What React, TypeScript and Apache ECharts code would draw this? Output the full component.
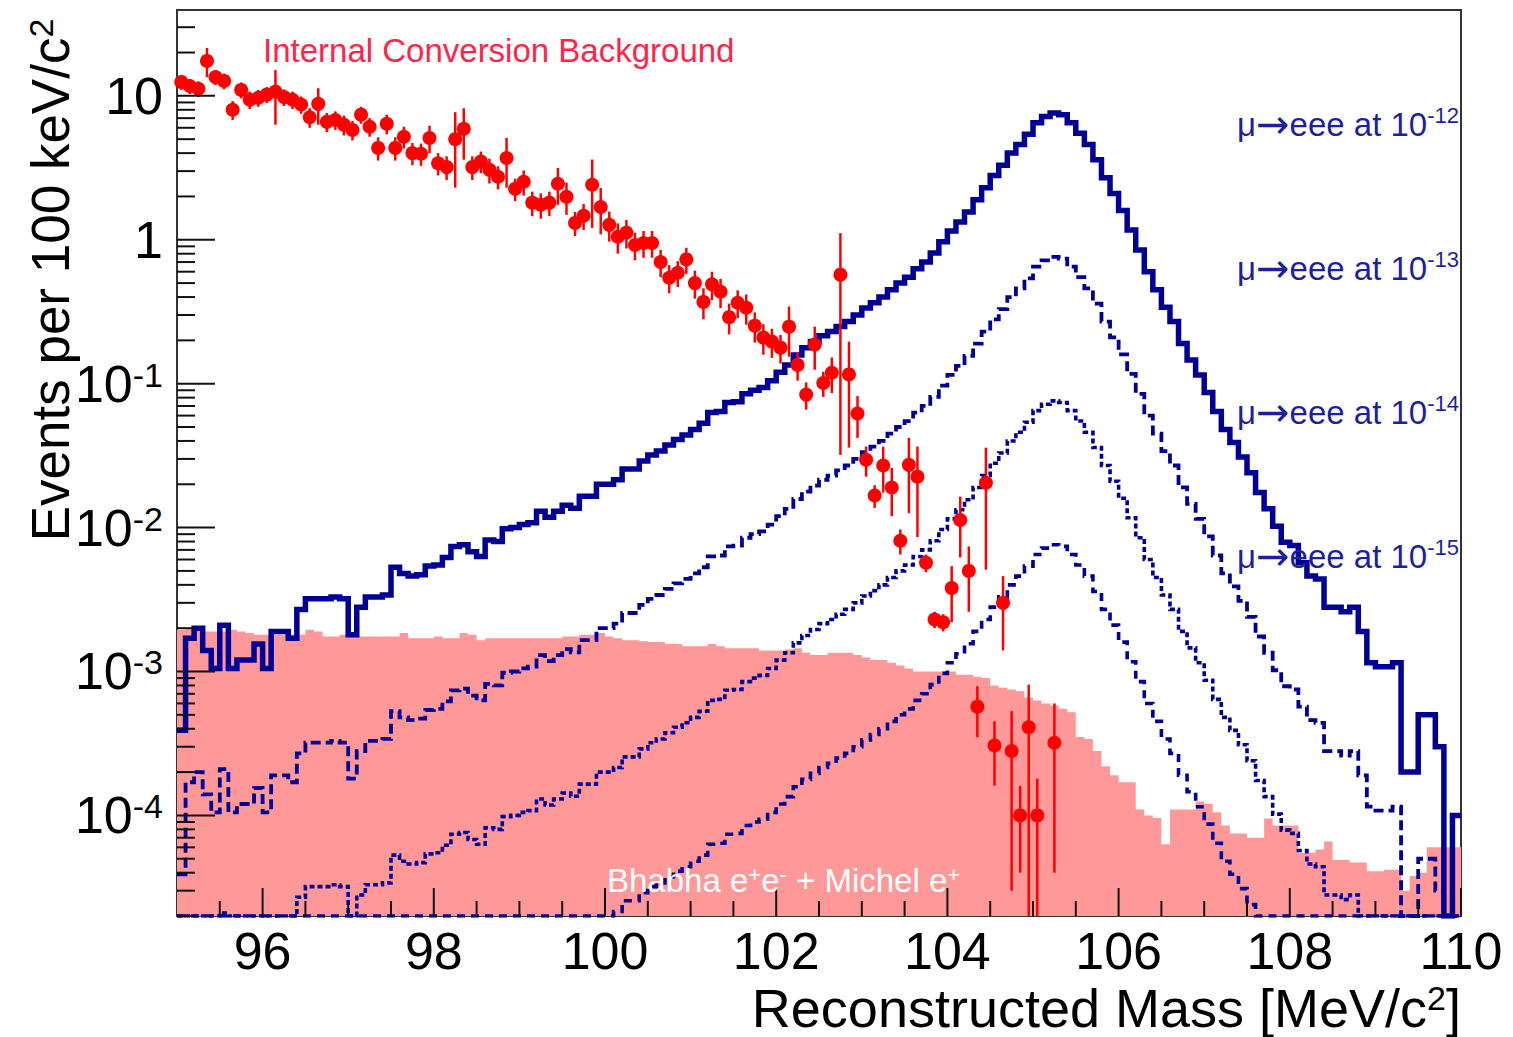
import React, { useEffect, useRef } from 'react';
import * as echarts from 'echarts';

// ---------- axis ranges ----------
const X_MIN = 95;
const X_MAX = 110;
const BIN_WIDTH = 0.1;
const Y_MIN = 2e-5;
const Y_MAX = 39.5;

// ---------- tick marks ----------
const X_MAJOR_TICKS = [96, 98, 100, 102, 104, 106, 108, 110];
const X_MINOR_TICKS = [95.5, 96.5, 97, 97.5, 98.5, 99, 99.5, 100.5, 101, 101.5, 102.5, 103, 103.5, 104.5, 105, 105.5, 106.5, 107, 107.5, 108.5, 109, 109.5];
const Y_DECADES = [1e-5, 1e-4, 1e-3, 1e-2, 1e-1, 1, 10];
const Y_MINOR_MULTIPLIERS = [2, 3, 4, 5, 6, 7, 8, 9];

// ---------- mu -> eee signal shape (10^-12 branching ratio), 150 bins of 100 keV from 95 MeV ----------
const SIGNAL_1E12 = [
  3.9e-4, 1.7e-3, 2.0e-3, 1.4e-3, 1.05e-3, 2.1e-3, 1.05e-3, 1.2e-3, 1.2e-3, 1.55e-3,
  1.05e-3, 1.9e-3, 1.9e-3, 1.7e-3, 2.7e-3, 3.2e-3, 3.2e-3, 3.2e-3, 3.3e-3, 3.2e-3,
  1.8e-3, 2.8e-3, 3.3e-3, 3.3e-3, 3.4e-3, 5.3e-3, 4.8e-3, 4.6e-3, 4.7e-3, 5.4e-3,
  5.5e-3, 6.2e-3, 7.4e-3, 7.6e-3, 6.8e-3, 6.3e-3, 8.2e-3, 8.0e-3, 9.8e-3, 1.0e-2,
  1.05e-2, 1.08e-2, 1.3e-2, 1.18e-2, 1.3e-2, 1.43e-2, 1.36e-2, 1.65e-2, 1.65e-2, 2.0e-2,
  2.0e-2, 2.15e-2, 2.55e-2, 2.55e-2, 2.9e-2, 3.2e-2, 3.4e-2, 3.75e-2, 4.1e-2, 4.4e-2,
  4.8e-2, 5.3e-2, 6.3e-2, 6.4e-2, 7.4e-2, 7.5e-2, 8.5e-2, 9.0e-2, 9.4e-2, 0.105,
  0.12, 0.135, 0.158, 0.178, 0.196, 0.215, 0.23, 0.25, 0.27, 0.30,
  0.335, 0.365, 0.40, 0.45, 0.50, 0.55, 0.63, 0.70, 0.81, 0.97,
  1.15, 1.33, 1.56, 1.9, 2.3, 2.8, 3.3, 4.0, 4.6, 5.4,
  6.5, 7.2, 7.6, 7.4, 6.5, 5.5, 4.6, 3.6, 2.7, 2.1,
  1.6, 1.17, 0.85, 0.6, 0.45, 0.34, 0.27, 0.19, 0.146, 0.115,
  0.087, 0.064, 0.048, 0.039, 0.031, 0.024, 0.0175, 0.0135, 0.0102, 0.0079,
  0.0075, 0.0057, 0.0046, 0.0044, 0.0028, 0.0028, 0.0026, 0.0028, 0.0019, 0.00115,
  0.00108, 0.00108, 0.00115, 0.0002, 0.0002, 0.0005, 0.0005, 0.0003, 0, 0.0001,
];
const SIGNAL_EXPONENTS = [-12, -13, -14, -15];

// ---------- Bhabha e+e- + Michel e+ background ----------
const BHABHA_MICHEL = [
  1.95e-3, 2.0e-3, 2.0e-3, 1.9e-3, 1.9e-3, 1.9e-3, 1.95e-3, 1.9e-3, 1.85e-3, 1.8e-3,
  1.8e-3, 1.8e-3, 1.8e-3, 1.8e-3, 1.8e-3, 1.95e-3, 1.9e-3, 1.75e-3, 1.75e-3, 1.8e-3,
  1.75e-3, 1.75e-3, 1.75e-3, 1.75e-3, 1.75e-3, 1.75e-3, 1.85e-3, 1.7e-3, 1.7e-3, 1.7e-3,
  1.75e-3, 1.7e-3, 1.7e-3, 1.85e-3, 1.8e-3, 1.65e-3, 1.7e-3, 1.7e-3, 1.7e-3, 1.7e-3,
  1.7e-3, 1.7e-3, 1.7e-3, 1.7e-3, 1.7e-3, 1.75e-3, 1.75e-3, 1.8e-3, 1.8e-3, 1.85e-3,
  1.75e-3, 1.7e-3, 1.65e-3, 1.65e-3, 1.62e-3, 1.6e-3, 1.6e-3, 1.55e-3, 1.55e-3, 1.5e-3,
  1.5e-3, 1.5e-3, 1.55e-3, 1.5e-3, 1.45e-3, 1.45e-3, 1.45e-3, 1.45e-3, 1.4e-3, 1.4e-3,
  1.4e-3, 1.42e-3, 1.45e-3, 1.35e-3, 1.3e-3, 1.3e-3, 1.35e-3, 1.35e-3, 1.35e-3, 1.3e-3,
  1.25e-3, 1.2e-3, 1.2e-3, 1.15e-3, 1.1e-3, 1.05e-3, 1.0e-3, 1.0e-3, 1.0e-3, 1.0e-3,
  1.0e-3, 9.5e-4, 9.5e-4, 9.2e-4, 9.0e-4, 8.0e-4, 7.7e-4, 7.5e-4, 7.3e-4, 6.6e-4,
  6.3e-4, 6.0e-4, 5.8e-4, 5.5e-4, 5.2e-4, 3.5e-4, 3.4e-4, 2.8e-4, 2.2e-4, 1.9e-4,
  1.7e-4, 1.7e-4, 1.1e-4, 1.0e-4, 9.6e-5, 6.3e-5, 1.1e-4, 1.1e-4, 1.1e-4, 1.25e-4,
  1.2e-4, 1.05e-4, 8.5e-5, 7.5e-5, 7.5e-5, 7.0e-5, 7.0e-5, 9.5e-5, 8.5e-5, 8.5e-5,
  8.5e-5, 5.5e-5, 5.5e-5, 5.8e-5, 6.6e-5, 4.9e-5, 4.9e-5, 4.7e-5, 4.7e-5, 4.1e-5,
  4.1e-5, 4.2e-5, 4.2e-5, 3.0e-5, 3.8e-5, 4.0e-5, 6.0e-5, 6.0e-5, 6.0e-5, 6.0e-5,
];

// ---------- Internal conversion background (points with errors) ----------
const IC_MASS = [
  95.05, 95.15, 95.25, 95.35, 95.45, 95.55, 95.65, 95.75, 95.85, 95.95,
  96.05, 96.15, 96.25, 96.35, 96.45, 96.55, 96.65, 96.75, 96.85, 96.95,
  97.05, 97.15, 97.25, 97.35, 97.45, 97.55, 97.65, 97.75, 97.85, 97.95,
  98.05, 98.15, 98.25, 98.35, 98.45, 98.55, 98.65, 98.75, 98.85, 98.95,
  99.05, 99.15, 99.25, 99.35, 99.45, 99.55, 99.65, 99.75, 99.85, 99.95,
  100.05, 100.15, 100.25, 100.35, 100.45, 100.55, 100.65, 100.75, 100.85, 100.95,
  101.05, 101.15, 101.25, 101.35, 101.45, 101.55, 101.65, 101.75, 101.85, 101.95,
  102.05, 102.15, 102.25, 102.35, 102.45, 102.55, 102.65, 102.75, 102.85, 102.95,
  103.05, 103.15, 103.25, 103.35, 103.45, 103.55, 103.65, 103.75, 103.85, 103.95,
  104.05, 104.15, 104.25, 104.35, 104.45, 104.55, 104.65, 104.75, 104.85, 104.95,
  105.05, 105.25,
];
const IC_VALUE = [
  12.5, 11.7, 11.2, 17.5, 13.5, 12.7, 8.0, 11.0, 9.4, 9.7,
  10.2, 10.7, 9.8, 9.4, 8.7, 7.1, 8.8, 6.6, 6.8, 6.3,
  5.8, 7.4, 6.1, 4.35, 6.4, 4.35, 5.2, 4.0, 3.96, 5.1,
  3.4, 3.2, 5.0, 5.9, 3.2, 3.5, 3.06, 2.74, 3.7, 2.26,
  2.53, 1.81, 1.75, 1.81, 2.45, 1.99, 1.31, 1.47, 2.41, 1.69,
  1.27, 1.05, 1.12, 0.92, 0.95, 0.95, 0.70, 0.545, 0.59, 0.73,
  0.50, 0.37, 0.49, 0.435, 0.29, 0.365, 0.337, 0.253, 0.209, 0.196,
  0.178, 0.249, 0.135, 0.084, 0.187, 0.101, 0.119, 0.572, 0.116, 0.062,
  0.0296, 0.0167, 0.027, 0.019, 0.0081, 0.0273, 0.0226, 0.0057, 0.0023, 0.0022,
  0.0038, 0.0113, 0.005, 0.00057, 0.0205, 0.000306, 0.003, 0.00028, 0.0001, 0.00041,
  0.0001, 0.00032,
];
const IC_ERROR = [
  1.5, 1.4, 1.4, 4.0, 1.6, 1.6, 1.2, 1.4, 1.3, 1.3,
  1.3, 4.4, 1.3, 1.3, 1.2, 1.1, 2.5, 1.0, 1.0, 1.0,
  0.9, 1.0, 0.9, 0.8, 1.0, 0.8, 0.9, 0.7, 0.7, 1.1,
  0.6, 0.6, 2.7, 2.3, 0.6, 0.6, 0.6, 0.5, 1.4, 0.4,
  0.5, 0.35, 0.35, 0.35, 0.7, 0.5, 0.25, 0.3, 1.2, 0.6,
  0.3, 0.25, 0.25, 0.2, 0.2, 0.2, 0.15, 0.12, 0.12, 0.15,
  0.11, 0.09, 0.11, 0.1, 0.07, 0.08, 0.08, 0.06, 0.05, 0.045,
  0.04, 0.095, 0.03, 0.018, 0.062, 0.02, 0.033, 0.54, 0.08, 0.02,
  0.007, 0.003, 0.0095, 0.007, 0.0016, 0.0147, 0.014, 0.0008, 0.0003, 0.0003,
  0.0016, 0.0051, 0.0024, 0.00022, 0.0154, 0.000145, 0.0016, 0.00025, 0.00006, 0.0004,
  0.00008, 0.00028,
];

const FONT = '"Liberation Sans", Arial, Helvetica, sans-serif';
const ARROW_FONT = '"DejaVu Sans", "Liberation Sans", sans-serif';
const NAVY = '#000096';
const PINK = '#ff9999';
const RED = '#ff0000';
const LABEL_RED = '#ff2448';
const LABEL_BLUE = '#1f1f9e';

const SIGNAL_STYLES: any[] = [
  { width: 5.5, type: 'solid' },
  { width: 3.8, type: [10, 5] },
  { width: 3.6, type: [5, 3] },
  { width: 3.6, type: [8, 6] },
];

function histEdges(values: number[], scale: number) {
  const pts: number[][] = values.map((v, i) => [X_MIN + i * BIN_WIDTH, Math.max(v * scale, Y_MIN)]);
  pts.push([X_MAX, Math.max(values[values.length - 1] * scale, Y_MIN)]);
  return pts;
}

function buildOption() {
  const xTicks: number[][] = [
    ...X_MAJOR_TICKS.map((x) => [x, Y_MIN, 1]),
    ...X_MINOR_TICKS.map((x) => [x, Y_MIN, 0]),
  ];
  const yTicks: number[][] = [];
  Y_DECADES.forEach((d) => {
    if (d >= Y_MIN && d <= Y_MAX) yTicks.push([X_MIN, d, 1]);
    Y_MINOR_MULTIPLIERS.forEach((m) => {
      const v = d * m;
      if (v >= Y_MIN * 0.999 && v <= Y_MAX) yTicks.push([X_MIN, v, 0]);
    });
  });

  const signalSeries = SIGNAL_EXPONENTS.map((e, i) => ({
    type: 'line',
    name: 'signal' + e,
    step: 'end',
    symbol: 'none',
    clip: true,
    z: 3,
    data: histEdges(SIGNAL_1E12, Math.pow(10, e + 12)),
    lineStyle: { color: NAVY, width: SIGNAL_STYLES[i].width, type: SIGNAL_STYLES[i].type, cap: 'butt', join: 'miter' },
  }));

  const errData = IC_MASS.map((m, i) => [m, Math.max(IC_VALUE[i] - IC_ERROR[i], Y_MIN), IC_VALUE[i] + IC_ERROR[i]]);
  const pointData = IC_MASS.map((m, i) => [m, IC_VALUE[i]]);

  const muRich = {
    a: { fontSize: 33, fontFamily: FONT, fill: LABEL_BLUE, color: LABEL_BLUE },
    r: { fontSize: 40, fontFamily: ARROW_FONT, fill: LABEL_BLUE, color: LABEL_BLUE },
    s: { fontSize: 22, fontFamily: FONT, fill: LABEL_BLUE, color: LABEL_BLUE, verticalAlign: 'top' },
  };

  return {
    animation: false,
    backgroundColor: '#ffffff',
    grid: {
      left: 177, right: 52, top: 10, bottom: 121,
      show: true, borderColor: '#333', borderWidth: 2, backgroundColor: 'transparent',
    },
    xAxis: {
      type: 'value', min: X_MIN, max: X_MAX, interval: 0.5,
      axisLine: { show: false }, axisTick: { show: false }, splitLine: { show: false },
      axisLabel: {
        margin: 9,
        fontSize: 52, fontFamily: FONT, color: '#000',
        formatter: (v: number) => (Math.round(v * 10) % 20 === 0 ? String(Math.round(v)) : ''),
      },
    },
    yAxis: {
      type: 'log', logBase: 10, min: Y_MIN, max: Y_MAX,
      axisLine: { show: false }, axisTick: { show: false }, splitLine: { show: false },
      axisLabel: {
        margin: 14,
        formatter: (v: number) => {
          const e = Math.log10(v);
          const r = Math.round(e);
          if (Math.abs(e - r) > 1e-6) return '';
          if (r === 1) return '{b|10}';
          if (r === 0) return '{b|1}';
          return '{b|10}{s|' + r + '}';
        },
        rich: {
          b: { fontSize: 52, fontFamily: FONT, color: '#000' },
          s: { fontSize: 34, fontFamily: FONT, color: '#000', verticalAlign: 'top' },
        },
      },
    },
    series: [
      {
        type: 'line', name: 'bhabha', step: 'end', symbol: 'none', z: 1,
        data: histEdges(BHABHA_MICHEL, 1),
        lineStyle: { width: 0, color: PINK },
        areaStyle: { color: PINK, opacity: 1, origin: 'start' },
      },
      ...signalSeries,
      {
        type: 'custom', name: 'icErr', z: 5, clip: true, silent: true,
        data: errData,
        renderItem: (params: any, api: any) => {
          const a = api.coord([api.value(0), api.value(1)]);
          const b = api.coord([api.value(0), api.value(2)]);
          return { type: 'line', shape: { x1: a[0], y1: a[1], x2: b[0], y2: b[1] }, style: { stroke: RED, lineWidth: 2.5 } };
        },
      },
      {
        type: 'scatter', name: 'ic', z: 6, symbol: 'circle', symbolSize: 14,
        itemStyle: { color: RED, opacity: 1 },
        data: pointData,
      },
      {
        type: 'custom', name: 'xTicks', z: 8, silent: true,
        data: xTicks,
        renderItem: (params: any, api: any) => {
          const p = api.coord([api.value(0), api.value(1)]);
          const len = api.value(2) === 1 ? 28 : 15;
          return { type: 'line', shape: { x1: p[0], y1: p[1], x2: p[0], y2: p[1] - len }, style: { stroke: '#111', lineWidth: 2 } };
        },
      },
      {
        type: 'custom', name: 'yTicks', z: 8, silent: true,
        data: yTicks,
        renderItem: (params: any, api: any) => {
          const p = api.coord([api.value(0), api.value(1)]);
          const len = api.value(2) === 1 ? 38 : 18;
          return { type: 'line', shape: { x1: p[0], y1: p[1], x2: p[0] + len, y2: p[1] }, style: { stroke: '#111', lineWidth: 2 } };
        },
      },
    ],
    graphic: [
      {
        type: 'text', x: 263, y: 50, z: 100,
        style: { text: 'Internal Conversion Background', fill: LABEL_RED, fontSize: 33, fontFamily: FONT, align: 'left', verticalAlign: 'middle' },
      },
      ...SIGNAL_EXPONENTS.map((e, i) => ({
        type: 'text', x: 1459, y: 124 + i * 144, z: 100,
        style: {
          text: '{a|μ}{r|→}{a|eee at 10}{s|' + e + '}',
          align: 'right', verticalAlign: 'middle',
          rich: muRich,
        },
      })),
      {
        type: 'text', x: 607, y: 880, z: 100,
        style: {
          text: '{a|Bhabha e}{s|+}{a|e}{s|-}{a| + Michel e}{s|+}',
          align: 'left', verticalAlign: 'middle',
          rich: {
            a: { fontSize: 33, fontFamily: FONT, fill: '#ffffff', color: '#ffffff' },
            s: { fontSize: 22, fontFamily: FONT, fill: '#ffffff', color: '#ffffff', verticalAlign: 'top' },
          },
        },
      },
      {
        type: 'text', x: 1461, y: 1008, z: 100,
        style: {
          text: '{a|Reconstructed Mass [MeV/c}{s|2}{a|]}',
          align: 'right', verticalAlign: 'middle',
          rich: {
            a: { fontSize: 54, fontFamily: FONT, fill: '#000', color: '#000' },
            s: { fontSize: 34, fontFamily: FONT, fill: '#000', color: '#000', verticalAlign: 'top' },
          },
        },
      },
      {
        type: 'text', x: 50, y: 280, rotation: Math.PI / 2, z: 100,
        style: {
          text: '{a|Events per 100 keV/c}{s|2}',
          align: 'center', verticalAlign: 'middle',
          rich: {
            a: { fontSize: 53, fontFamily: FONT, fill: '#000', color: '#000' },
            s: { fontSize: 34, fontFamily: FONT, fill: '#000', color: '#000', verticalAlign: 'top' },
          },
        },
      },
    ],
  };
}

export default function App() {
  const ref = useRef<HTMLDivElement>(null);
  useEffect(() => {
    if (!ref.current) return;
    const chart = echarts.init(ref.current, undefined, { renderer: 'svg' });
    chart.setOption(buildOption() as any);
    return () => chart.dispose();
  }, []);
  return (
    <div
      ref={ref}
      style={{ position: 'fixed', left: 0, top: 0, width: 1513, height: 1037, background: '#fff' }}
    />
  );
}
